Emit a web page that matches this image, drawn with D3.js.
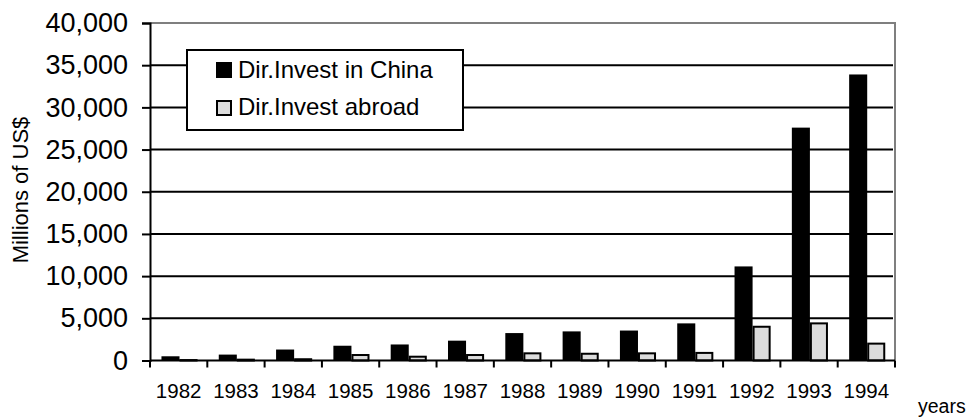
<!DOCTYPE html>
<html>
<head>
<meta charset="utf-8">
<script src="https://cdn.jsdelivr.net/npm/d3@7"></script>
<style>
  html, body { margin: 0; padding: 0; background: #fff; }
  svg { display: block; font-family: "Liberation Sans", Arial, sans-serif; }
</style>
</head>
<body>
<svg id="chart" width="976" height="420"></svg>
<script>
// Foreign direct investment, China, 1982-1994 (millions of US$)
const years = ["1982", "1983", "1984", "1985", "1986", "1987", "1988", "1989", "1990", "1991", "1992", "1993", "1994"];
const investInChina = [500, 700, 1300, 1750, 1900, 2350, 3250, 3450, 3550, 4400, 11150, 27600, 33900];
const investAbroad  = [50, 100, 150, 650, 450, 650, 850, 800, 850, 900, 4000, 4400, 2000];
const yTicks = [0, 5000, 10000, 15000, 20000, 25000, 30000, 35000, 40000];
const seriesNames = ["Dir.Invest in China", "Dir.Invest abroad"];

const svg = d3.select("#chart");
const plot = { left: 150, right: 895, top: 23, bottom: 360.5 };

const x = d3.scaleBand().domain(years).range([plot.left, plot.right]).paddingInner(0).paddingOuter(0);
const y = d3.scaleLinear().domain([0, 40000]).range([plot.bottom, plot.top]);

// horizontal gridlines
svg.append("g")
  .selectAll("line")
  .data(yTicks.filter(d => d > 0 && d < 40000))
  .join("line")
  .attr("x1", plot.left).attr("x2", plot.right - 2)
  .attr("y1", d => y(d)).attr("y2", d => y(d))
  .attr("stroke", "#000").attr("stroke-width", 2);

// plot area frame (top and right, grey)
svg.append("path")
  .attr("d", `M${plot.left},${y(40000)}H${plot.right}V${plot.bottom}`)
  .attr("fill", "none").attr("stroke", "#7f7f7f").attr("stroke-width", 2);

// bars
const bw = x.bandwidth();
const barW = bw * 0.315;
const offset = bw * 0.2;

svg.append("g")
  .selectAll("rect")
  .data(years)
  .join("rect")
  .attr("x", d => x(d) + offset)
  .attr("y", (d, i) => y(investInChina[i]))
  .attr("width", barW)
  .attr("height", (d, i) => y(0) - y(investInChina[i]))
  .attr("fill", "#000");

svg.append("g")
  .selectAll("rect")
  .data(years)
  .join("rect")
  .attr("x", d => x(d) + offset + barW + 1)
  .attr("y", (d, i) => y(investAbroad[i]))
  .attr("width", barW - 2)
  .attr("height", (d, i) => y(0) - y(investAbroad[i]))
  .attr("fill", "#dcdcdc")
  .attr("stroke", "#000")
  .attr("stroke-width", 2);

// y axis
const yAxis = svg.append("g")
  .attr("transform", `translate(${plot.left},0)`)
  .call(d3.axisLeft(y).tickValues(yTicks).tickSize(8).tickPadding(14).tickFormat(d3.format(",")));
yAxis.select(".domain").attr("stroke", "#000").attr("stroke-width", 2);
yAxis.selectAll(".tick line").attr("stroke", "#000").attr("stroke-width", 2);
yAxis.selectAll(".tick text")
  .attr("fill", "#000")
  .style("font-size", "27px")
  .style("font-family", "'Liberation Sans', Arial, sans-serif");

// x axis: labels centered in each band, ticks at band boundaries
const xAxis = svg.append("g")
  .attr("transform", `translate(0,${plot.bottom})`)
  .call(d3.axisBottom(x).tickSize(0).tickPadding(23));
xAxis.select(".domain").remove();
xAxis.selectAll(".tick text")
  .attr("fill", "#000")
  .style("font-size", "20.5px")
  .style("font-family", "'Liberation Sans', Arial, sans-serif");

const bounds = years.map(d => x(d)).concat([x.range()[1]]);
svg.append("line")
  .attr("x1", plot.left).attr("x2", plot.right)
  .attr("y1", plot.bottom).attr("y2", plot.bottom)
  .attr("stroke", "#000").attr("stroke-width", 2);
svg.append("g")
  .selectAll("line")
  .data(bounds)
  .join("line")
  .attr("x1", d => d).attr("x2", d => d)
  .attr("y1", plot.bottom).attr("y2", plot.bottom + 7)
  .attr("stroke", "#000").attr("stroke-width", 2);

// axis titles
svg.append("text")
  .attr("transform", `translate(28,190) rotate(-90)`)
  .attr("text-anchor", "middle")
  .style("font-size", "22px")
  .text("Millions of US$");

svg.append("text")
  .attr("x", 918).attr("y", 413)
  .style("font-size", "19.5px")
  .text("years");

// legend
const legend = svg.append("g");
legend.append("rect")
  .attr("x", 187).attr("y", 50).attr("width", 276).attr("height", 80)
  .attr("fill", "#fff").attr("stroke", "#000").attr("stroke-width", 2);

const legendFills = ["#000", "#dcdcdc"];
const legendRows = legend.selectAll("g.row")
  .data(seriesNames)
  .join("g")
  .attr("class", "row")
  .attr("transform", (d, i) => `translate(0,${i * 37})`);
legendRows.append("rect")
  .attr("x", (d, i) => i ? 217 : 216).attr("y", (d, i) => i ? 64 : 62)
  .attr("width", (d, i) => i ? 14 : 16).attr("height", (d, i) => i ? 14 : 16)
  .attr("fill", (d, i) => legendFills[i])
  .attr("stroke", "#000").attr("stroke-width", (d, i) => i ? 2 : 0);
legendRows.append("text")
  .attr("x", 238).attr("y", 78)
  .style("font-size", "24px")
  .text(d => d);
</script>
</body>
</html>
